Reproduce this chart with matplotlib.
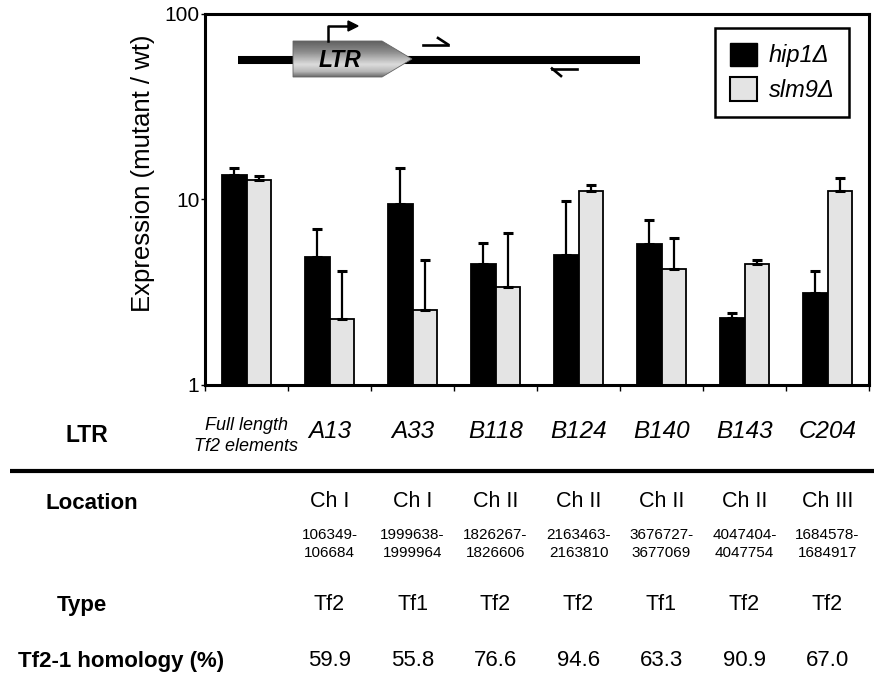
import numpy as np
import matplotlib
matplotlib.use("Agg")
from matplotlib import pyplot as plt
from matplotlib.patches import Patch, Polygon
from matplotlib.transforms import blended_transform_factory

plt.rcParams["font.family"] = ["Liberation Sans", "DejaVu Sans"]

categories = ["Full length\nTf2 elements", "A13", "A33", "B118", "B124", "B140", "B143", "C204"]
hip1 = [13.5, 4.9, 9.5, 4.5, 5.0, 5.75, 2.3, 3.15]
hip1_err = [1.34, 2.01, 5.34, 1.35, 4.85, 2.03, 0.15, 0.97]
slm9 = [12.7, 2.26, 2.54, 3.39, 11.1, 4.22, 4.48, 11.1]
slm9_err = [0.74, 1.86, 2.18, 3.18, 0.87, 2.0, 0.24, 1.9]

chromosome = ["Ch I", "Ch I", "Ch II", "Ch II", "Ch II", "Ch II", "Ch III"]
coords = ["106349-\n106684", "1999638-\n1999964", "1826267-\n1826606", "2163463-\n2163810",
          "3676727-\n3677069", "4047404-\n4047754", "1684578-\n1684917"]
ltr_type = ["Tf2", "Tf1", "Tf2", "Tf2", "Tf1", "Tf2", "Tf2"]
homology = [59.9, 55.8, 76.6, 94.6, 63.3, 90.9, 67.0]

W, H = 874, 694
fig = plt.figure(figsize=(W / 100, H / 100), dpi=100)
ax = fig.add_axes([205 / W, 1 - 385 / H, 664 / W, 371 / H])

x = np.arange(len(categories))
bw = 0.3
gray = "#e4e4e4"
ax.bar(x - bw / 2, hip1, bw, color="black", edgecolor="black", lw=1.3, zorder=2)
ax.bar(x + bw / 2, slm9, bw, color=gray, edgecolor="black", lw=1.3, zorder=2)
ax.errorbar(x - bw / 2, hip1, yerr=[np.zeros(len(x)), hip1_err], fmt="none",
            ecolor="black", elinewidth=1.6, capsize=3.5, capthick=2.2, zorder=3)
ax.errorbar(x + bw / 2, slm9, yerr=[np.zeros(len(x)), slm9_err], fmt="none",
            ecolor="black", elinewidth=1.6, capsize=3.5, capthick=2.2, zorder=3)

ax.set_yscale("log")
ax.set_ylim(1, 100)
ax.set_xlim(-0.5, len(categories) - 0.5)
ax.set_yticks([1, 10, 100])
ax.set_yticklabels(["1", "10", "100"], fontsize=15)
ax.yaxis.set_minor_locator(matplotlib.ticker.NullLocator())
ax.tick_params(axis="y", length=3, width=1, pad=1)
ax.set_xticks(np.arange(len(categories) + 1) - 0.5)
ax.set_xticklabels([])
ax.tick_params(axis="x", length=4, width=1, direction="out")
for s in ax.spines.values():
    s.set_linewidth(2.2)

ax.legend(handles=[Patch(facecolor="black", edgecolor="black", label="hip1Δ"),
                   Patch(facecolor=gray, edgecolor="black", lw=1.5, label="slm9Δ")],
          loc="upper left", bbox_to_anchor=(715 / W, 1 - 28 / H), bbox_transform=fig.transFigure,
          borderaxespad=0, fancybox=False, framealpha=1, edgecolor="black",
          prop={"size": 17, "style": "italic"}, handlelength=1.15, handleheight=1.15,
          labelspacing=0.42, handletextpad=0.5, borderpad=0.62).get_frame().set_linewidth(1.8)

fig.text(143 / W, 1 - 173 / H, "Expression (mutant / wt)", rotation=90,
         ha="center", va="center", fontsize=18.5)

# overlay in pixel coordinates for the inset diagram and table
ov = fig.add_axes([0, 0, 1, 1])
ov.axis("off")
ov.set_xlim(0, W)
ov.set_ylim(H, 0)

ov.plot([238, 640], [60, 60], color="black", lw=5.8, solid_capstyle="butt", zorder=1)
shape = Polygon([[293, 41], [382, 41], [412, 59], [382, 77], [293, 77]], closed=True,
                facecolor="none", edgecolor="#666666", lw=0.6, zorder=3)
ov.add_patch(shape)
grad = np.interp(np.linspace(0, 1, 60), [0, 0.3, 0.65, 0.85, 1], [0.38, 0.55, 0.86, 0.72, 0.42])
img = ov.imshow(np.tile(grad[:, None], (1, 10)), extent=[293, 412, 77, 41], cmap="gray",
                vmin=0, vmax=1, aspect="auto", zorder=2, interpolation="bilinear")
img.set_clip_path(shape)
ov.text(340, 60, "LTR", ha="center", va="center", fontsize=16.5, fontweight="bold",
        style="italic", zorder=4)
ov.plot([328, 328, 350], [41, 26, 26], color="black", lw=1.8, zorder=4)
ov.add_patch(Polygon([[348, 21], [358, 26], [348, 31]], closed=True, color="black", zorder=4))
ov.plot([423, 448], [44.5, 44.5], color="black", lw=1.9)
ov.plot([438, 448], [38, 44.5], color="black", lw=1.9)
ov.plot([552, 577], [68.5, 68.5], color="black", lw=1.9)
ov.plot([552, 561], [68.5, 76], color="black", lw=1.9)
ov.set_xlim(0, W)
ov.set_ylim(H, 0)

# table below the chart
tr = blended_transform_factory(ax.transData, ov.transData)
ov.text(87, 435, "LTR", ha="center", va="center", fontsize=16.5, fontweight="bold")
ov.text(0, 436, categories[0], transform=tr, ha="center", va="center", fontsize=13,
        style="italic", linespacing=1.25)
for i, name in enumerate(categories[1:], start=1):
    ov.text(i, 431, name, transform=tr, ha="center", va="center", fontsize=17.5, style="italic")
ov.plot([10, W], [471, 471], color="black", lw=3, solid_capstyle="butt")

ov.text(92, 503, "Location", ha="center", va="center", fontsize=16, fontweight="bold")
ov.text(82, 605, "Type", ha="center", va="center", fontsize=16, fontweight="bold")
ov.text(121, 661, "Tf2-1 homology (%)", ha="center", va="center", fontsize=16, fontweight="bold")
for i in range(len(chromosome)):
    ov.text(i + 1, 501, chromosome[i], transform=tr, ha="center", va="center", fontsize=15.5)
    ov.text(i + 1, 544, coords[i], transform=tr, ha="center", va="center", fontsize=11,
            linespacing=1.3)
    ov.text(i + 1, 605, ltr_type[i], transform=tr, ha="center", va="center", fontsize=15.5)
    ov.text(i + 1, 660, f"{homology[i]:.1f}", transform=tr, ha="center", va="center", fontsize=16)

fig.savefig("out.png", dpi=100)
